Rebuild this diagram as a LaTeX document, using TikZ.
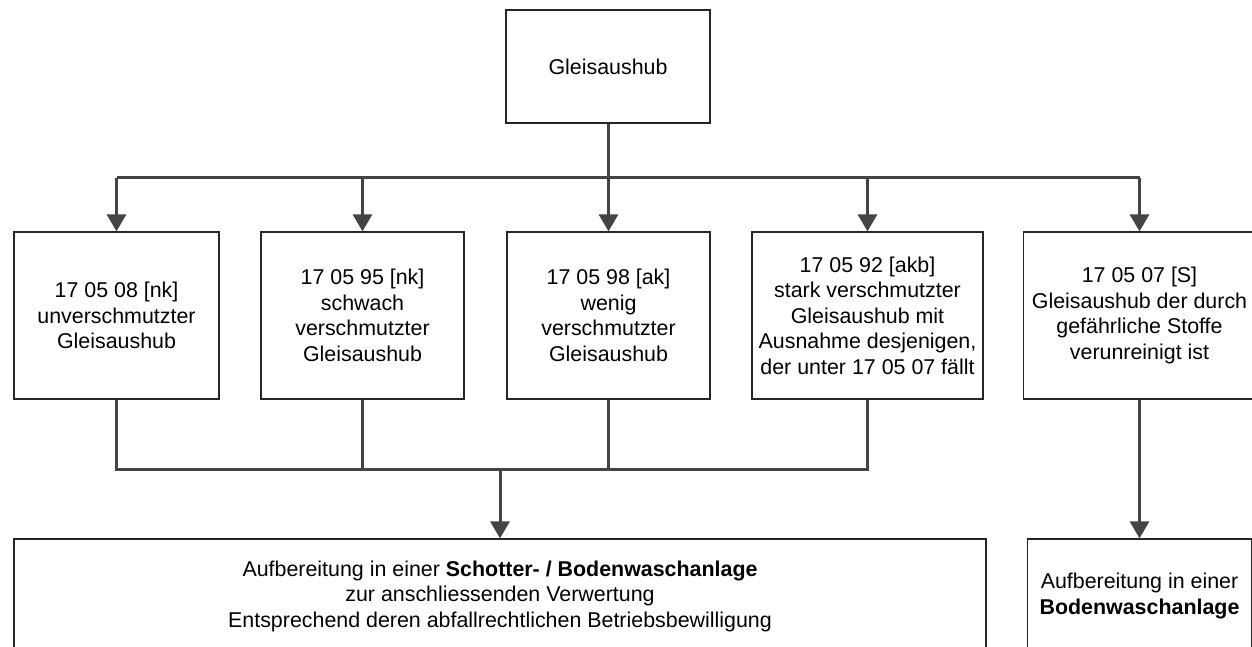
\documentclass[tikz,border=0pt]{standalone}
\usepackage{fontspec}
\setmainfont{Liberation Sans}
\usetikzlibrary{arrows.meta}
\definecolor{conncol}{HTML}{444444}
\tikzset{
  box/.style={draw=black!85, line width=1.2pt, rectangle, inner sep=0pt, align=center,
    font=\fontsize{21.4pt}{25.5pt}\selectfont, text=black},
  conn/.style={draw=conncol, line width=3pt},
  arr/.style={conn, -{Triangle[width=19pt,length=17pt]}}
}
\begin{document}
\begin{tikzpicture}[x=1pt,y=-1pt]
\path[use as bounding box] (0,0) rectangle (1252,647);
\clip (0,0) rectangle (1252,647);
\node[box, minimum width=204pt, minimum height=113pt] (top) at (608,66.5) {Gleisaushub};
\node[box, minimum width=205pt, minimum height=167pt] (b1) at (116.5,315.5) {17 05 08 [nk]\\unverschmutzter\\Gleisaushub};
\node[box, minimum width=203pt, minimum height=167pt] (b2) at (362.5,315.5) {17 05 95 [nk]\\schwach\\verschmutzter\\Gleisaushub};
\node[box, minimum width=203pt, minimum height=167pt] (b3) at (608.5,315.5) {17 05 98 [ak]\\wenig\\verschmutzter\\Gleisaushub};
\node[box, minimum width=231pt, minimum height=167pt] (b4) at (867.5,315.5) {17 05 92 [akb]\\stark verschmutzter\\Gleisaushub mit\\Ausnahme desjenigen,\\der unter 17 05 07 fällt};
\node[box, minimum width=232pt, minimum height=167pt] (b5) at (1139.5,315.5) {17 05 07 [S]\\Gleisaushub der durch\\gefährliche Stoffe\\verunreinigt ist};
\node[box, minimum width=972pt, minimum height=114pt] (bm) at (500,596) {Aufbereitung in einer \textbf{Schotter- / Bodenwaschanlage}\\zur anschliessenden Verwertung\\Entsprechend deren abfallrechtlichen Betriebsbewilligung};
\node[box, minimum width=224pt, minimum height=114pt] (br) at (1139.5,596) {Aufbereitung in einer\\\textbf{Bodenwaschanlage}};
\coordinate (bus) at (608,178);
\coordinate (bus2) at (500,469);
\draw[conn] (top.south) -- (top.south |- bus);
\draw[conn] (b1.north |- bus) -- (b5.north |- bus);
\foreach \b in {b1,b2,b3,b4,b5} \draw[arr] (\b.north |- bus) -- (\b.north);
\draw[conn] (b1.south) -- (b1.south |- bus2) -- (b4.south |- bus2) -- (b4.south);
\draw[conn] (b2.south) -- (b2.south |- bus2);
\draw[conn] (b3.south) -- (b3.south |- bus2);
\draw[arr] (bm.north |- bus2) -- (bm.north);
\draw[arr] (b5.south) -- (br.north);
\end{tikzpicture}
\end{document}
